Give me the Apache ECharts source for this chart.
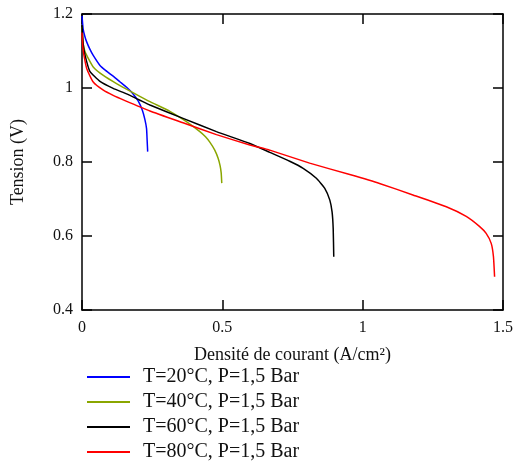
<!DOCTYPE html>
<html><head><meta charset="utf-8">
<script src="https://cdn.jsdelivr.net/npm/echarts@6/dist/echarts.min.js"></script>
<style>html,body{margin:0;padding:0;background:#fff}#c{width:518px;height:468px}</style>
</head><body><div id="c"></div>
<script>
const seriesNames = ['T=20°C, P=1,5 Bar','T=40°C, P=1,5 Bar','T=60°C, P=1,5 Bar','T=80°C, P=1,5 Bar'];
const colors = ['#0000ff','#8aa600','#000000','#ff0000'];
const xTicks = [0, 0.5, 1, 1.5];
const yTicks = [0.4, 0.6, 0.8, 1, 1.2];
const t20 = [[0,1.195],[0.004,1.16],[0.01,1.14],[0.017,1.124],[0.028,1.105],[0.04,1.088],[0.064,1.061],[0.085,1.047],[0.111,1.032],[0.135,1.017],[0.159,1.002],[0.18,0.986],[0.2,0.965],[0.215,0.94],[0.224,0.915],[0.23,0.89],[0.232,0.86],[0.234,0.828]];
const t40 = [[0,1.165],[0.004,1.12],[0.01,1.1],[0.017,1.088],[0.04,1.057],[0.076,1.034],[0.123,1.012],[0.183,0.987],[0.242,0.963],[0.313,0.937],[0.372,0.909],[0.42,0.882],[0.44,0.868],[0.456,0.853],[0.473,0.832],[0.485,0.81],[0.492,0.79],[0.496,0.77],[0.498,0.743]];
const t60 = [[0,1.17],[0.004,1.12],[0.011,1.088],[0.028,1.045],[0.064,1.018],[0.111,0.999],[0.159,0.984],[0.206,0.967],[0.242,0.954],[0.36,0.918],[0.479,0.882],[0.598,0.85],[0.669,0.826],[0.74,0.802],[0.788,0.783],[0.835,0.756],[0.865,0.729],[0.883,0.697],[0.891,0.665],[0.895,0.62],[0.897,0.544]];
const t80 = [[0,1.15],[0.003,1.11],[0.007,1.088],[0.017,1.052],[0.04,1.016],[0.076,0.994],[0.111,0.98],[0.153,0.966],[0.242,0.938],[0.36,0.906],[0.479,0.874],[0.598,0.846],[0.669,0.832],[0.811,0.797],[0.954,0.766],[1.06,0.742],[1.179,0.711],[1.298,0.679],[1.369,0.653],[1.416,0.626],[1.44,0.607],[1.458,0.58],[1.466,0.544],[1.47,0.49]];
const data = [t20, t40, t60, t80];

const font = 'Liberation Serif';
const chart = echarts.init(document.getElementById('c'));
function axisLine(){ return {show:true, onZero:false, lineStyle:{color:'#000', width:1.5}}; }
function tick(){ return {show:true, inside:true, length:10, lineStyle:{color:'#000', width:1.5}}; }
chart.setOption({
  animation:false,
  backgroundColor:'#fff',
  grid:{left:82, right:15, top:14, bottom:158, containLabel:false},
  legend:{
    orient:'vertical', left:82, top:362, height:130, itemWidth:43, itemHeight:2, itemGap:5, icon:'rect',
    textStyle:{fontFamily:font, fontSize:20, lineHeight:20, color:'#111', padding:[0,0,0,8]},
    data: seriesNames
  },
  xAxis:[{
    type:'value', min:0, max:1.5, interval:0.5, position:'bottom',
    name:'Densité de courant (A/cm²)', nameLocation:'middle', nameGap:36,
    nameTextStyle:{fontFamily:font, fontSize:18, color:'#111'},
    axisLine:axisLine(), axisTick:tick(), splitLine:{show:false},
    axisLabel:{fontFamily:font, fontSize:16, color:'#111', margin:8, padding:[2,0,0,0], formatter:v=>String(v)}
  },{
    type:'value', min:0, max:1.5, interval:0.5, position:'top',
    axisLine:axisLine(), axisTick:tick(), splitLine:{show:false}, axisLabel:{show:false}
  }],
  yAxis:[{
    type:'value', min:0.4, max:1.2, interval:0.2, position:'left',
    name:'Tension (V)', nameLocation:'middle', nameGap:55, nameRotate:90,
    nameTextStyle:{fontFamily:font, fontSize:18, color:'#111'},
    axisLine:axisLine(), axisTick:tick(), splitLine:{show:false},
    axisLabel:{fontFamily:font, fontSize:16, color:'#111', margin:9, padding:[6,0,0,0], formatter:v=>String(+v.toFixed(1))}
  },{
    type:'value', min:0.4, max:1.2, interval:0.2, position:'right',
    axisLine:axisLine(), axisTick:tick(), splitLine:{show:false}, axisLabel:{show:false}
  }],
  series: data.map((d,i)=>({
    name:seriesNames[i], type:'line', data:d, showSymbol:false, symbol:'none',
    smooth:0.15, lineStyle:{color:colors[i], width:1.5}, itemStyle:{color:colors[i]}
  }))
});
</script></body></html>
